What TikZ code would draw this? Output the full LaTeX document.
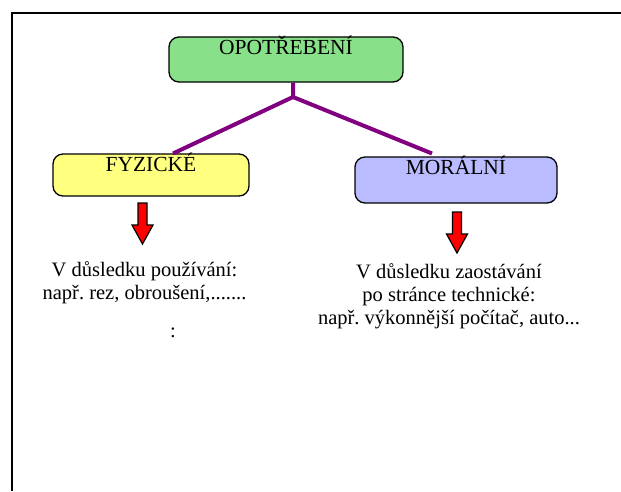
\documentclass[tikz,border=0pt]{standalone}
\usepackage{fontspec}
\setmainfont{Liberation Serif}
\frenchspacing
\begin{document}
\begin{tikzpicture}[x=1pt,y=-1pt,
  box/.style={draw=black,line width=1.3pt,rounded corners=10pt,inner xsep=0pt,inner ysep=2pt,
    text height=15pt,font=\fontsize{21.5}{24}\selectfont},
  purpleline/.style={draw={rgb,255:red,128;green,0;blue,128},line width=4pt},
  redarrow/.style={draw=black,line width=1.2pt,fill=red,line join=miter},
  body/.style={align=center,anchor=base,font=\fontsize{20.5}{23}\selectfont,inner sep=0pt}]
\definecolor{boxgreen}{RGB}{136,224,136}
\definecolor{boxyellow}{RGB}{255,255,128}
\definecolor{boxblue}{RGB}{187,187,255}
\useasboundingbox (0,0) rectangle (621,491);
% frame
\draw[line width=1.5pt] (12,491) -- (12,13) -- (621,13);
% boxes
\node[box,fill=boxgreen,minimum width=234pt,text depth=26pt] (opo) at (286,59.5) {OPOTŘEBENÍ};
\node[box,fill=boxyellow,minimum width=196pt,text depth=23pt] (fyz) at (151,175) {FYZICKÉ};
\node[box,fill=boxblue,minimum width=202pt,text depth=27pt] (mor) at (456,180) {MORÁLNÍ};
% connectors
\coordinate (j) at (293,97);
\coordinate (jl) at (173,153.5);
\coordinate (jr) at (432,153.5);
\draw[purpleline] (opo.south -| j) -- (j) -- (jl);
\draw[purpleline] (j) -- (jr);
% red arrows
\draw[redarrow] (138,203) -- (147,203) -- (147,225) -- (153,225) -- (142.5,244) -- (132,225) -- (138,225) -- cycle;
\draw[redarrow] (452.5,212) -- (461.5,212) -- (461.5,234) -- (467.5,234) -- (457,253) -- (446.5,234) -- (452.5,234) -- cycle;
% texts (anchor=base is the baseline of the last line)
\node[body] (t1) at (144.5,299) {V důsledku používání:\\např. rez, obroušení,.......};
\node[body] (t2) at (173,337) {:};
\node[body] (t3) at (449,324) {V důsledku zaostávání\\po stránce technické:\\např. výkonnější počítač, auto...};
\end{tikzpicture}
\end{document}
